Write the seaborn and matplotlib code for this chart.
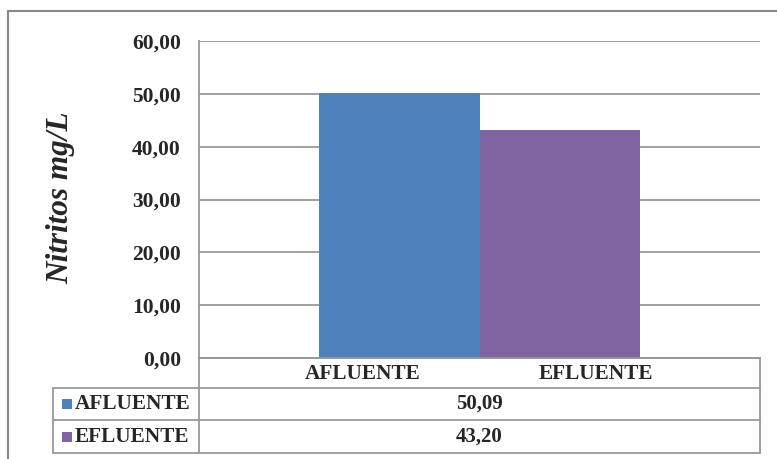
import matplotlib
matplotlib.use("Agg")
import matplotlib.pyplot as plt
import seaborn as sns
import pandas as pd
from matplotlib.lines import Line2D
from matplotlib.patches import Rectangle
from matplotlib.ticker import FuncFormatter, MultipleLocator

categories = ["AFLUENTE", "EFLUENTE"]
values = [50.09, 43.20]
colors = ["#4F81BD", "#8064A2"]
y_label = "Nitritos mg/L"

sns.set_style("white")
plt.rcParams["font.family"] = ["Liberation Serif", "DejaVu Serif"]

W, H = 777, 459
fig = plt.figure(figsize=(W / 100, H / 100), dpi=100)

def fx(px):
    return px / W

def fy(py):
    return 1 - py / H

L, R, T, B = 199, 760, 41, 358
ax = fig.add_axes([fx(L), fy(B), fx(R) - fx(L), fy(T) - fy(B)])

df = pd.DataFrame({"cat": categories, "val": values})
sns.barplot(data=df, x="cat", y="val", hue="cat", palette=colors, width=1.0,
            legend=False, ax=ax, saturation=1, zorder=3, linewidth=0)
ax.set_xlim(-1.25, 2.25)
ax.set_ylim(0, 60)
ax.yaxis.set_major_locator(MultipleLocator(10))
ax.yaxis.set_major_formatter(FuncFormatter(lambda v, p: f"{v:.2f}".replace(".", ",")))
ax.grid(axis="y", color="#989898", linewidth=1.3, zorder=0)
ax.set_axisbelow(True)
for s in ["top", "right"]:
    ax.spines[s].set_visible(False)
for s in ["left", "bottom"]:
    ax.spines[s].set_color("#989898")
    ax.spines[s].set_linewidth(1.3)
ax.set_xlabel("")
ax.set_ylabel("")
ax.tick_params(axis="y", length=0, pad=13, labelsize=15.5)
ax.tick_params(axis="x", length=0, labelbottom=False)
for lab in ax.get_yticklabels():
    lab.set_fontweight("bold")

fig.text(fx(61), fy(198), y_label, rotation=90, ha="center", va="center",
         fontsize=22.5, fontweight="bold", fontstyle="italic")

# data table
lc = "#989898"
lw = 1.3
def hline(x0, x1, y):
    fig.add_artist(Line2D([fx(x0), fx(x1)], [fy(y), fy(y)], color=lc, linewidth=lw,
                          transform=fig.transFigure))
def vline(x, y0, y1):
    fig.add_artist(Line2D([fx(x), fx(x)], [fy(y0), fy(y1)], color=lc, linewidth=lw,
                          transform=fig.transFigure))

row_edges = [358, 388, 420, 453]
tab_left = 53
hline(L, R, row_edges[0])
for ye in row_edges[1:]:
    hline(tab_left, R, ye)
vline(L, row_edges[0], row_edges[-1])
vline(R, row_edges[0], row_edges[-1])
vline(tab_left, row_edges[1], row_edges[-1])

# header row (category labels)
header_x = [363, 596]
for cat, hx in zip(categories, header_x):
    fig.text(fx(hx), fy(374), cat, ha="center", va="center", fontsize=15.3,
             fontweight="bold")

for i, (cat, val, col) in enumerate(zip(categories, values, colors)):
    y0, y1 = row_edges[i + 1], row_edges[i + 2]
    yc = (y0 + y1) / 2
    fig.add_artist(Rectangle((fx(62), fy(yc + 5)), fx(10), fy(0) - fy(10),
                             facecolor=col, edgecolor="none", transform=fig.transFigure))
    fig.text(fx(75), fy(yc), cat, ha="left", va="center", fontsize=15.3, fontweight="bold")
    fig.text(fx((L + R) / 2), fy(yc), f"{val:.2f}".replace(".", ","), ha="center",
             va="center", fontsize=15, fontweight="bold")

# outer chart border
fig.add_artist(Line2D([fx(8), fx(8)], [fy(11), 0], color="#888888", linewidth=1.5,
                      transform=fig.transFigure))
fig.add_artist(Line2D([fx(8), 1], [fy(11), fy(11)], color="#888888", linewidth=1.5,
                      transform=fig.transFigure))

fig.savefig("out.png", dpi=100)
